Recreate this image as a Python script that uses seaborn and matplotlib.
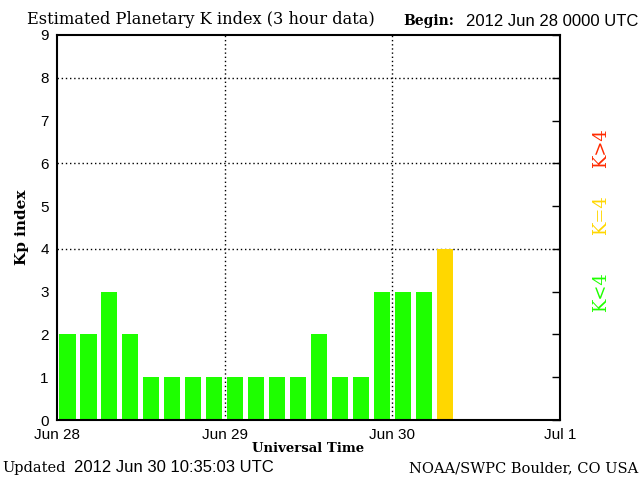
import pandas as pd
import matplotlib
matplotlib.use('Agg')
import matplotlib.pyplot as plt
import seaborn as sns

# 3-hour slots since 2012 Jun 28 0000 UTC
slot_start_hours = [0, 3, 6, 9, 12, 15, 18, 21, 24, 27, 30, 33, 36, 39, 42, 45, 48, 51, 54]
kp_values = [2, 2, 3, 2, 1, 1, 1, 1, 1, 1, 1, 1, 2, 1, 1, 3, 3, 3, 4]
day_ticks = [0, 24, 48, 72]
day_labels = ['Jun 28', 'Jun 29', 'Jun 30', 'Jul 1']

GREEN = '#1eff00'
GOLD = '#ffd700'
RED = '#ff2a00'

sns.set_theme(style='white')
plt.rcParams['font.family'] = ['Liberation Sans', 'DejaVu Sans']
plt.rcParams.update({'text.color': 'black', 'axes.labelcolor': 'black',
                     'xtick.color': 'black', 'ytick.color': 'black'})

df = pd.DataFrame({'hour': [h + 1.5 for h in slot_start_hours], 'kp': kp_values})
df['level'] = ['low' if v < 4 else ('mid' if v == 4 else 'high') for v in df['kp']]

fig = plt.figure(figsize=(6.4, 4.8), dpi=100)
ax = fig.add_axes([57 / 640, 60 / 480, 503 / 640, 385 / 480])

sns.barplot(data=df, x='hour', y='kp', hue='level', native_scale=True, dodge=False,
            palette={'low': GREEN, 'mid': GOLD, 'high': RED}, width=0.77,
            saturation=1, linewidth=0, legend=False, errorbar=None, ax=ax)

ax.set_xlim(0, 72)
ax.set_ylim(0, 9)

# dotted grid
for y in [4, 6, 8]:
    ax.axhline(y, color='black', lw=1, ls=(0, (1, 2)), zorder=0)
for x in [24, 48]:
    ax.axvline(x, color='black', lw=1, ls=(0, (1, 2)), zorder=0)

ax.set_xticks(day_ticks)
ax.set_xticklabels(day_labels)
ax.set_xticks([h + 1.5 for h in range(0, 72, 3)], minor=True)
ax.set_yticks(range(10))
ax.tick_params(axis='x', which='major', direction='in', length=6, width=1,
               color='black', labelcolor='black', labelsize=11, pad=6)
ax.tick_params(axis='x', which='minor', direction='in', length=6, width=1, color='white')
ax.tick_params(axis='y', direction='in', left=False, right=True, length=6, width=1,
               color='black', labelcolor='black', labelsize=11, pad=6)
for s in ax.spines.values():
    s.set_color('black')
    s.set_linewidth(1.5)

ax.set_xlabel('Universal Time', family='DejaVu Serif', fontweight='bold', fontsize=9.5,
              labelpad=0, color='black')
ax.set_ylabel('Kp index', family='DejaVu Serif', fontweight='bold', fontsize=11,
              labelpad=8, color='black')

fig.text(27 / 640, 1 - 19 / 480, 'Estimated Planetary K index (3 hour data)',
         family='DejaVu Serif', fontsize=11.7, va='center', ha='left')
fig.text(403 / 640, 1 - 21 / 480, 'Begin:', family='DejaVu Serif', fontweight='bold',
         fontsize=10, va='center', ha='left')
fig.text(638 / 640, 1 - 21 / 480, '2012 Jun 28 0000 UTC', fontsize=12, va='center', ha='right')

fig.text(2 / 640, 1 - 468 / 480, 'Updated', family='DejaVu Serif', fontsize=10.5,
         va='center', ha='left')
fig.text(74 / 640, 1 - 468 / 480, '2012 Jun 30 10:35:03 UTC', fontsize=12,
         va='center', ha='left')
fig.text(638 / 640, 1 - 468 / 480, 'NOAA/SWPC Boulder, CO USA', family='DejaVu Serif',
         fontsize=10.5, va='center', ha='right')

for label, color, yc in [('K<4', GREEN, 292), ('K=4', GOLD, 215), ('K>4', RED, 148)]:
    fig.text(601 / 640, 1 - yc / 480, label, family='DejaVu Serif', fontsize=13,
             color=color, rotation=90, va='center', ha='center')

fig.savefig('out.png', dpi=100, facecolor='white')
